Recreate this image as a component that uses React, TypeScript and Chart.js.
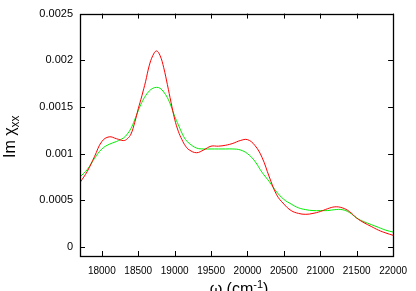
import React, { useEffect, useRef } from "react";
import { Chart, registerables } from "chart.js";

Chart.register(...registerables);

const omega: number[] = [
  17700, 17800, 17900, 18000, 18100, 18200, 18300, 18350, 18400, 18450, 18500,
  18550, 18600, 18650, 18700, 18750, 18800, 18850, 18900, 18950, 19000, 19050,
  19100, 19150, 19200, 19300, 19400, 19500, 19600, 19700, 19800, 19900, 20000,
  20100, 20200, 20300, 20400, 20500, 20600, 20700, 20800, 20900, 21000, 21100,
  21200, 21300, 21400, 21500, 21600, 21700, 21800, 21900, 22000,
];

const redSeries: number[] = [
  0.00069, 0.00081, 0.00097, 0.00113, 0.00118, 0.00116, 0.00114, 0.00116,
  0.00121, 0.00133, 0.00148, 0.00162, 0.00177, 0.00194, 0.00205, 0.0021,
  0.00205, 0.00192, 0.00174, 0.00155, 0.00137, 0.00124, 0.00115, 0.00108,
  0.00104, 0.00101, 0.00104, 0.00108, 0.00108, 0.00109, 0.00111, 0.00114,
  0.00115, 0.00109, 0.00096, 0.00075, 0.00056, 0.00046, 0.00039, 0.00036,
  0.00035, 0.00036, 0.00038, 0.00041, 0.00043, 0.00042, 0.00038, 0.00031,
  0.00026, 0.00022, 0.00018, 0.00015, 0.000125,
];

const greenSeries: number[] = [
  0.00075, 0.00083, 0.00095, 0.00105, 0.0011, 0.00113, 0.00117, 0.00121,
  0.00127, 0.00136, 0.00146, 0.00155, 0.00162, 0.00167, 0.0017, 0.00171,
  0.0017, 0.00166, 0.0016, 0.00151, 0.0014, 0.00131, 0.00122, 0.00115,
  0.00111, 0.00106, 0.00105, 0.00105, 0.00105, 0.00105, 0.00105, 0.00104,
  0.001, 0.00092, 0.0008, 0.0007, 0.00059, 0.00051, 0.00046, 0.00042,
  0.0004, 0.00039, 0.00039, 0.00039, 0.0004, 0.0004, 0.00037, 0.00031,
  0.00027, 0.00024, 0.00021, 0.00018, 0.00016,
];

const xTickValues: number[] = [18000, 18500, 19000, 19500, 20000, 20500, 21000, 21500, 22000];
const yTickValues: number[] = [0, 0.0005, 0.001, 0.0015, 0.002, 0.0025];
const yTickLabels: string[] = ["0", "0.0005", "0.001", "0.0015", "0.002", "0.0025"];

const FONT = "'Liberation Sans', Arial, Helvetica, sans-serif";

const framePlugin = {
  id: "gnuplotFrame",
  afterDatasetsDraw(chart: any) {
    const ctx = chart.ctx as CanvasRenderingContext2D;
    const { left, right, top, bottom } = chart.chartArea;
    const xs = chart.scales.x;
    const ys = chart.scales.y;
    const tl = 5;
    ctx.save();
    ctx.strokeStyle = "#000";
    ctx.lineWidth = 1;
    ctx.beginPath();
    for (const v of xTickValues) {
      const px = Math.round(xs.getPixelForValue(v)) + 0.5;
      ctx.moveTo(px, bottom);
      ctx.lineTo(px, bottom - tl);
      ctx.moveTo(px, top);
      ctx.lineTo(px, top + tl);
    }
    for (const v of yTickValues) {
      const py = Math.round(ys.getPixelForValue(v)) + 0.5;
      ctx.moveTo(left, py);
      ctx.lineTo(left + tl, py);
      ctx.moveTo(right, py);
      ctx.lineTo(right - tl, py);
    }
    ctx.stroke();
    ctx.lineWidth = 1.3;
    ctx.strokeRect(Math.round(left) + 0.5, Math.round(top) + 0.5, Math.round(right - left), Math.round(bottom - top));

    // Y axis title: Im χ_xx
    ctx.fillStyle = "#000";
    ctx.translate(14.5, 158);
    ctx.rotate(-Math.PI / 2);
    ctx.textAlign = "left";
    ctx.textBaseline = "alphabetic";
    ctx.font = `16px ${FONT}`;
    const main = "Im \u03c7";
    ctx.fillText(main, 0, 0);
    const w1 = ctx.measureText(main).width;
    ctx.font = `12px ${FONT}`;
    ctx.fillText("xx", w1, 4);
    ctx.setTransform(1, 0, 0, 1, 0, 0);

    // X axis title: ω (cm^-1)
    ctx.font = `16px ${FONT}`;
    const a = "\u03c9 (cm";
    const c = ")";
    const wa = ctx.measureText(a).width;
    const wc = ctx.measureText(c).width;
    ctx.font = `11px ${FONT}`;
    const b = "-1";
    const wb = ctx.measureText(b).width;
    const total = wa + wb + wc;
    const x0 = 239 - total / 2;
    ctx.font = `16px ${FONT}`;
    ctx.fillText(a, x0, 294);
    ctx.font = `11px ${FONT}`;
    ctx.fillText(b, x0 + wa, 288);
    ctx.font = `16px ${FONT}`;
    ctx.fillText(c, x0 + wa + wb, 294);
    ctx.restore();
  },
};

export default function App() {
  const ref = useRef<HTMLCanvasElement | null>(null);
  useEffect(() => {
    if (!ref.current) return;
    const chart = new Chart(ref.current, {
      type: "line",
      data: {
        datasets: [
          {
            data: omega.map((x, i) => ({ x, y: redSeries[i] })),
            borderColor: "#ff0000",
            borderWidth: 1,
            pointRadius: 0,
            tension: 0.4,
            fill: false,
          },
          {
            data: omega.map((x, i) => ({ x, y: greenSeries[i] })),
            borderColor: "#00ee00",
            borderWidth: 1,
            pointRadius: 0,
            tension: 0.4,
            fill: false,
          },
        ],
      },
      options: {
        animation: false,
        responsive: false,
        events: [],
        layout: { padding: { left: 0, right: 20, top: 13, bottom: 0 } },
        plugins: { legend: { display: false }, tooltip: { enabled: false } },
        scales: {
          x: {
            type: "linear",
            min: 17700,
            max: 22000,
            grid: { display: false, drawTicks: false },
            border: { display: false },
            afterBuildTicks: (s: any) => {
              s.ticks = xTickValues.map((v) => ({ value: v }));
            },
            afterFit: (s: any) => {
              s.height = 35;
            },
            ticks: {
              color: "#000",
              padding: 9,
              maxRotation: 0,
              autoSkip: false,
              font: { family: FONT, size: 10 },
              callback: (v: any) => String(v),
            },
          },
          y: {
            type: "linear",
            min: -0.0000964,
            max: 0.0025,
            grid: { display: false, drawTicks: false },
            border: { display: false },
            afterBuildTicks: (s: any) => {
              s.ticks = yTickValues.map((v) => ({ value: v }));
            },
            afterFit: (s: any) => {
              s.width = 80;
            },
            ticks: {
              color: "#000",
              padding: 7,
              autoSkip: false,
              font: { family: FONT, size: 11 },
              callback: (v: any) => {
                const i = yTickValues.indexOf(v);
                return i >= 0 ? yTickLabels[i] : "";
              },
            },
          },
        },
      },
      plugins: [framePlugin],
    } as any);
    return () => chart.destroy();
  }, []);
  return (
    <div style={{ position: "fixed", left: 0, top: 0, width: 416, height: 291, background: "#fff" }}>
      <canvas ref={ref} width={416} height={291} style={{ width: 416, height: 291 }} />
    </div>
  );
}
